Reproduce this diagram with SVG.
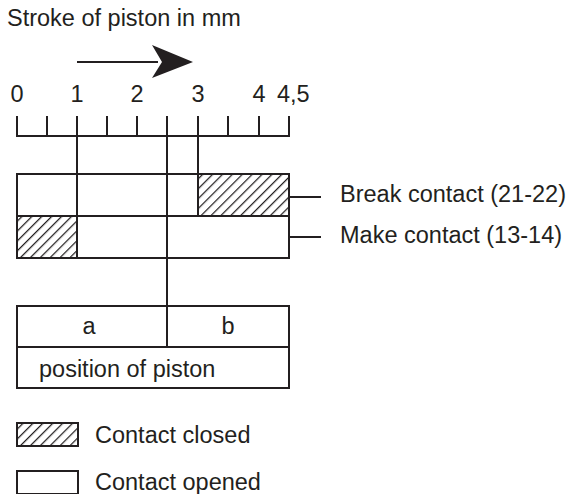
<svg xmlns="http://www.w3.org/2000/svg" width="571" height="494" viewBox="0 0 571 494">
<style>
.ln{stroke:#231f20;stroke-width:2;fill:none;stroke-linecap:square}
.bx{stroke:#231f20;stroke-width:2;fill:#fff}
.ht{stroke:#231f20;stroke-width:2;fill:url(#hatch)}
text{font-family:"Liberation Sans",Arial,sans-serif;font-size:23.5px;fill:#231f20}
.m{text-anchor:middle}
</style>
<defs>
<pattern id="hatch" patternUnits="userSpaceOnUse" width="7" height="7" patternTransform="rotate(45)">
<rect width="7" height="7" fill="#fff"/>
<line x1="0" y1="0" x2="0" y2="7" stroke="#231f20" stroke-width="2.5"/>
</pattern>
</defs>
<g id="title"><text x="7" y="26">Stroke of piston in mm</text></g>
<g id="direction-arrow"><line x1="77" y1="62" x2="158" y2="62" stroke="#231f20" stroke-width="2"/><path d="M152,45 L193,62 L152,78 L162,62 Z" fill="#231f20"/></g>
<g id="scale">
<text x="17" y="102" class="m">0</text>
<text x="77" y="102" class="m">1</text>
<text x="137" y="102" class="m">2</text>
<text x="198" y="102" class="m">3</text>
<text x="259" y="102" class="m">4</text>
<text x="277" y="102">4,5</text>
<path class="ln" d="M17,136 H289 M17,117 V136 M47,117 V136 M77,117 V136 M107,117 V136 M137,117 V136 M167,117 V136 M198,117 V136 M228,117 V136 M259,117 V136 M289,117 V136"/>
</g>
<g id="row-break">
<rect class="bx" x="17" y="174" width="272" height="42"/>
<rect class="ht" x="198" y="174" width="91" height="42"/>
<text x="340" y="202">Break contact (21-22)</text>
</g>
<g id="row-make">
<rect class="bx" x="17" y="216" width="272" height="42"/>
<rect class="ht" x="17" y="216" width="60" height="42"/>
<text x="340" y="243">Make contact (13-14)</text>
</g>
<g id="position">
<rect class="bx" x="17" y="306" width="272" height="82"/>
<path class="ln" d="M17,347 H289 M167,306 V347"/>
<text x="89" y="334" class="m">a</text>
<text x="228" y="334" class="m">b</text>
<text x="39" y="377">position of piston</text>
</g>
<g id="connectors">
<path class="ln" d="M77,136 V258 M167,136 V306 M198,136 V216 M289,197 H320 M289,237 H320"/>
</g>
<g id="legend">
<rect class="ht" x="17" y="423" width="61" height="23"/>
<text x="95" y="443">Contact closed</text>
<rect class="bx" x="17" y="471" width="61" height="23"/>
<text x="95" y="490">Contact opened</text>
</g>
</svg>
